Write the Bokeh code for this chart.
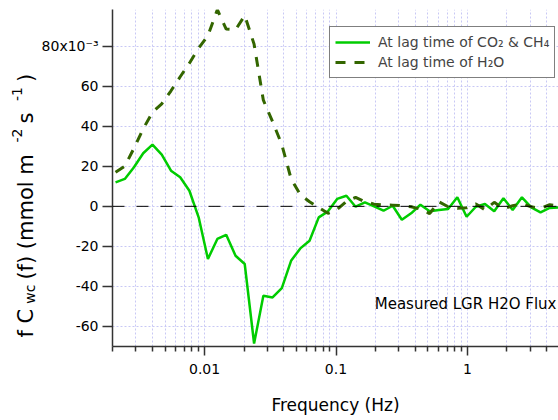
import math
from bokeh.plotting import figure
from bokeh.layouts import row
from bokeh.models import FixedTicker, Span, Label, CustomJSTickFormatter, BasicTickFormatter
from bokeh.core.properties import value
from bokeh.embed import file_html
from bokeh.resources import INLINE

# ---------------- data (flux values in units of 1e-3 mmol m-2 s-1) ----------------
freq = [0.00210, 0.00247, 0.00290, 0.00341, 0.00401, 0.00472, 0.00555, 0.00652, 0.00766, 0.00901,
        0.0106, 0.0125, 0.0146, 0.0172, 0.0202, 0.0238, 0.0280, 0.0329, 0.0387, 0.0455,
        0.0535, 0.0629, 0.0739, 0.0869, 0.102, 0.120, 0.141, 0.166, 0.195, 0.230,
        0.270, 0.317, 0.373, 0.439, 0.516, 0.607, 0.713, 0.838, 0.986, 1.16,
        1.36, 1.60, 1.88, 2.21, 2.60, 3.06, 3.60, 4.23, 4.97]

cwc_co2_lag = [12.0, 13.7, 19.5, 26.5, 30.8, 25.8, 17.8, 14.5, 7.8, -5.5,
               -26.3, -16.3, -14.2, -24.7, -28.8, -68.5, -44.7, -45.5, -40.8, -27.2,
               -21.0, -17.2, -5.5, -2.5, 3.7, 5.3, -0.2, 2.0, 0.0, -2.2,
               0.3, -6.7, -3.5, 0.8, -2.5, -1.8, -1.3, 4.5, -5.2, -0.2,
               1.2, -2.5, 4.0, -1.8, 4.5, -0.5, -3.0, -0.8, -0.5]

cwc_h2o_lag = [17.0, 20.0, 29.0, 38.7, 47.0, 51.2, 57.7, 64.7, 71.5, 79.0,
               85.2, 98.2, 88.5, 88.2, 95.3, 81.0, 53.0, 42.3, 30.8, 13.8,
               5.8, 2.3, -0.6, -3.5, -1.5, 2.5, 4.5, 2.3, 1.1, 0.7,
               0.6, 0.3, -0.2, -1.4, -3.6, 2.3, -0.2, -1.0, -0.7, 1.2,
               -1.7, 2.0, -1.2, 0.3, 1.3, -0.2, -1.0, 0.8, 0.0]

x_major_ticks = [0.01, 0.1, 1]
x_minor_ticks = [0.002, 0.003, 0.004, 0.005, 0.006, 0.007, 0.008, 0.009,
                 0.02, 0.03, 0.04, 0.05, 0.06, 0.07, 0.08, 0.09,
                 0.2, 0.3, 0.4, 0.5, 0.6, 0.7, 0.8, 0.9,
                 2, 3, 4]
y_ticks = [-60, -40, -20, 0, 20, 40, 60, 80]

label_co2 = "At lag time of CO\u2082 & CH\u2084"
label_h2o = "At lag time of H\u2082O"
annotation_text = "Measured LGR H2O Flux"
x_title = "Frequency (Hz)"
y_title_pieces = [("f C", "main"), ("wc", "sub"), (" (f) (mmol m", "main"), ("-2", "sup"),
                  (" s", "main"), ("-1", "sup"), (" )", "main")]

FONT = "DejaVu Sans"
GREEN = "#00cc00"
DARK = "#336600"
GRID = "#c8c8f5"

LW = 38          # width of the strip holding the y title
H = 420
TOP, BOTTOM = 9, 74

# ---------------- main plot ----------------
p = figure(width=558 - LW, height=H, x_axis_type="log",
           x_range=(0.001991, 4.935), y_range=(-70, 98.3),
           output_backend="svg", toolbar_location=None,
           min_border_left=111 - LW, min_border_right=0,
           min_border_top=TOP, min_border_bottom=BOTTOM)
p.outline_line_color = None
p.background_fill_color = "white"
p.border_fill_color = "white"

xa = p.xaxis[0]
xa.ticker = FixedTicker(ticks=x_major_ticks, minor_ticks=x_minor_ticks)
xa.formatter = BasicTickFormatter(use_scientific=False)
xa.major_tick_out = 9
xa.major_tick_in = 0
xa.minor_tick_out = 5
xa.minor_tick_in = 0
xa.major_label_standoff = 8
xa.major_label_text_font = FONT
xa.major_label_text_font_size = "14px"
xa.major_label_text_color = "black"
xa.axis_label = x_title
xa.axis_label_text_font = FONT
xa.axis_label_text_font_size = "17px"
xa.axis_label_text_font_style = "normal"
xa.axis_label_text_color = "black"
xa.axis_label_standoff = 18
xa.axis_line_color = "#333333"
xa.axis_line_width = 1.5
xa.major_tick_line_color = "#333333"
xa.minor_tick_line_color = "#333333"
xa.major_tick_line_width = 1.5
xa.minor_tick_line_width = 1.5

ya = p.yaxis[0]
ya.ticker = FixedTicker(ticks=y_ticks, minor_ticks=[])
ya.formatter = CustomJSTickFormatter(
    code="return (tick == 80) ? '80x10\u207B\u00B3' : tick.toFixed(0);")
ya.major_tick_out = 10
ya.major_tick_in = 0
ya.major_label_standoff = 4
ya.major_label_text_font = FONT
ya.major_label_text_font_size = "14px"
ya.major_label_text_color = "black"
ya.axis_line_color = "#333333"
ya.axis_line_width = 1.5
ya.major_tick_line_color = "#333333"
ya.major_tick_line_width = 1.5

for g in (p.xgrid[0], p.ygrid[0]):
    g.grid_line_color = GRID
    g.grid_line_dash = "2 2"
    g.grid_line_width = 1
p.xgrid[0].minor_grid_line_color = GRID
p.xgrid[0].minor_grid_line_dash = "2 2"
p.xgrid[0].minor_grid_line_width = 1

p.add_layout(Span(location=0, dimension="width", line_color="black",
                  line_width=1, line_dash="12 12"))

p.line(freq, cwc_co2_lag, line_color=GREEN, line_width=2.5, legend_label=label_co2)
p.line(freq, cwc_h2o_lag, line_color=DARK, line_width=3, line_dash="10 9", legend_label=label_h2o)

lg = p.legend[0]
lg.location = (217, 268)
lg.margin = 0
lg.padding = 5
lg.spacing = 0
lg.glyph_width = 35
lg.glyph_height = 20
lg.label_height = 20
lg.label_standoff = 8
lg.label_text_font = FONT
lg.label_text_font_size = "14px"
lg.border_line_color = "black"
lg.border_line_width = 1
lg.background_fill_color = "white"
lg.background_fill_alpha = 1

p.add_layout(Label(x=444, y=43, x_units="screen", y_units="screen", text=annotation_text,
                   text_align="right", text_baseline="middle", text_font=FONT,
                   text_font_size="15px", text_color="black"))

# ---------------- strip with the rotated y-axis title ----------------
# its frame is aligned with the main frame, so the y range is given in
# "pixels above the page bottom" over that frame (74 .. 411)
t = figure(width=LW, height=H, x_range=(0, LW), y_range=(BOTTOM, H - TOP),
           output_backend="svg", toolbar_location=None,
           x_axis_location=None, y_axis_location=None,
           min_border_left=0, min_border_right=0,
           min_border_top=TOP, min_border_bottom=BOTTOM)
t.outline_line_color = None
t.background_fill_color = "white"
t.border_fill_color = "white"
t.grid.visible = False

W = {' ': 318, 'f': 352, 'C': 698, 'w': 818, 'c': 550, '(': 390, ')': 390, 'm': 974,
     'o': 612, 'l': 278, 's': 521, '-': 361, '1': 636, '2': 636}
SIZES = {"main": 21, "sub": 14, "sup": 14}
CENTER = {"main": 25.5, "sub": 29.0, "sup": 16.0}
GAP = 5.0
pos = 83.0   # start of the title, pixels above the page bottom
for txt, role in y_title_pieces:
    size = SIZES[role]
    t.text(x=[CENTER[role]], y=[pos], text=[txt], angle=math.pi / 2,
           text_align="left", text_baseline="middle",
           text_font=value(FONT), text_font_size=value(f"{size}px"), text_color="black")
    pos += sum(W.get(ch, 600) for ch in txt) * size / 1000.0 + GAP

layout = row(t, p, spacing=0)
open("out.html", "w").write(file_html(layout, INLINE))
